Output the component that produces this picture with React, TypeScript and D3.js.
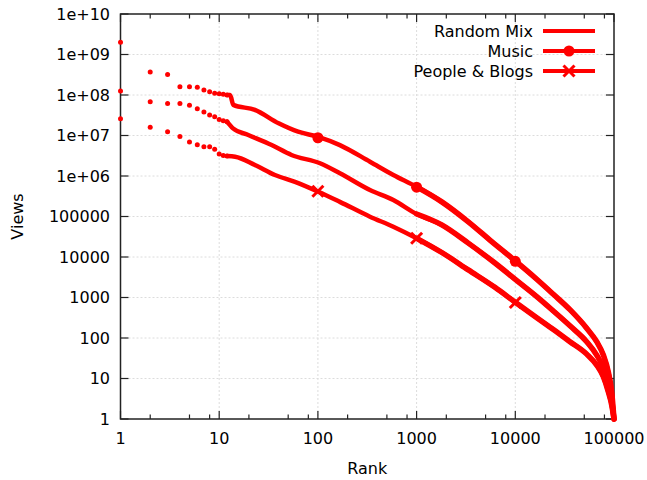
import React from "react";
import * as d3 from "d3";

const W = 647;
const H = 480;

// Individual early ranks (drawn as dots)
const dotRanks = [1, 2, 3, 4, 5, 6, 7, 8, 9, 10, 11, 12];
const musicDots = [2.0e9, 3.7e8, 3.2e8, 1.6e8, 1.6e8, 1.55e8, 1.32e8, 1.2e8, 1.1e8, 1.07e8, 1.04e8, 1.0e8];
const randomDots = [1.26e8, 6.8e7, 6.2e7, 6.2e7, 5.6e7, 4.6e7, 3.8e7, 3.2e7, 2.9e7, 2.5e7, 2.3e7, 2.2e7];
const peopleDots = [2.6e7, 1.6e7, 1.24e7, 9.5e6, 6.9e6, 5.9e6, 5.3e6, 5.3e6, 4.6e6, 3.5e6, 3.2e6, 3.1e6];

// Dense part of each curve
const musicRanks = [12, 12.9, 13.9, 23, 40, 63, 101, 167, 337, 581, 1000, 1800, 3340, 5770, 10000, 16500, 24300, 35800, 52900, 66800, 78000, 87500, 94800, 100000];
const musicViews = [1.0e8, 1.0e8, 5.7e7, 4.3e7, 2.0e7, 1.24e7, 9.3e6, 5.8e6, 2.25e6, 1.06e6, 5.4e5, 2.3e5, 7.4e4, 2.4e4, 8.0e3, 2820, 1200, 500, 174, 81, 38, 14.7, 4.7, 1];

const randomRanks = [12, 13.8, 19.7, 34, 54, 105, 167, 337, 581, 1000, 1800, 3340, 6220, 10000, 16500, 24300, 35800, 52900, 66800, 78000, 87500, 94800, 100000];
const randomViews = [2.2e7, 1.5e7, 1.03e7, 5.8e6, 3.3e6, 2.06e6, 1.17e6, 4.5e5, 2.55e5, 1.15e5, 6.2e4, 2.2e4, 7.1e3, 2.8e3, 1050, 464, 200, 81, 38, 17.9, 6.9, 2.7, 1];

const peopleRanks = [12, 14.5, 23, 36.7, 58.6, 101, 167, 337, 581, 1000, 1800, 3340, 6220, 10000, 16500, 24300, 35800, 52900, 66800, 78000, 87500, 94800, 100000];
const peopleViews = [3.1e6, 3.0e6, 1.87e6, 1.06e6, 7.2e5, 4.1e5, 2.3e5, 9.9e4, 5.6e4, 2.9e4, 1.29e4, 4.8e3, 1.78e3, 760, 316, 162, 81, 40, 21.4, 11, 4.7, 2.2, 1];

// Marker points
const markerRanks = [100, 1000, 10000];
const musicMarkers = [8.8e6, 5.3e5, 7.8e3];
const peopleMarkers = [4.2e5, 2.9e4, 7.5e2];

const xTickValues = [1, 10, 100, 1000, 10000, 100000];
const xTickLabels = ["1", "10", "100", "1000", "10000", "100000"];
const xMinorMultipliers = [2, 5, 8];
const yTickValues = [1, 10, 100, 1000, 1e4, 1e5, 1e6, 1e7, 1e8, 1e9, 1e10];
const yTickLabels = ["1", "10", "100", "1000", "10000", "100000", "1e+06", "1e+07", "1e+08", "1e+09", "1e+10"];

const legendNames = ["Random Mix", "Music", "People & Blogs"];

const RED = "#ff0000";
const FONT = "'DejaVu Sans', Verdana, sans-serif";
const FS = 16;

export default function App() {
  const left = 120.5, right = 614, top = 14, bottom = 419;
  const x = d3.scaleLog().domain([1, 1e5]).range([left, right]);
  const y = d3.scaleLog().domain([1, 1e10]).range([bottom, top]);

  const line = d3
    .line<[number, number]>()
    .x((d) => x(d[0]))
    .y((d) => y(d[1]))
    .curve(d3.curveMonotoneX);

  const zip = (a: number[], b: number[]) => a.map((v, i) => [v, b[i]] as [number, number]);

  const series = [
    { ranks: randomRanks, views: randomViews, dots: randomDots },
    { ranks: musicRanks, views: musicViews, dots: musicDots },
    { ranks: peopleRanks, views: peopleViews, dots: peopleDots },
  ];

  const minorX: number[] = [];
  for (let d = 1; d < 1e5; d *= 10) xMinorMultipliers.forEach((m) => minorX.push(d * m));

  const axisColor = "#222";
  const gridColor = "#dcdcdc";
  const cross = (cx: number, cy: number, s: number, key: string) => (
    <g key={key} stroke={RED} strokeWidth={3}>
      <line x1={cx - s} y1={cy - s} x2={cx + s} y2={cy + s} />
      <line x1={cx - s} y1={cy + s} x2={cx + s} y2={cy - s} />
    </g>
  );

  return (
    <svg
      width={W}
      height={H}
      style={{ position: "absolute", left: 0, top: 0, background: "#fff" }}
      fontFamily={FONT}
    >
      {/* grid */}
      {xTickValues.slice(1, -1).map((v) => (
        <line key={"gx" + v} x1={x(v)} x2={x(v)} y1={top} y2={bottom} stroke={gridColor} strokeWidth={1} strokeDasharray="2,2" />
      ))}
      {yTickValues.slice(1, -1).map((v) => (
        <line key={"gy" + v} x1={left} x2={right} y1={y(v)} y2={y(v)} stroke={gridColor} strokeWidth={1} strokeDasharray="2,2" />
      ))}

      {/* ticks */}
      {xTickValues.map((v) => (
        <g key={"xt" + v} stroke={axisColor} strokeWidth={1.2}>
          <line x1={x(v)} x2={x(v)} y1={bottom} y2={bottom - 8} />
          <line x1={x(v)} x2={x(v)} y1={top} y2={top + 8} />
        </g>
      ))}
      {minorX.map((v) => (
        <g key={"xm" + v} stroke={axisColor} strokeWidth={1.2}>
          <line x1={x(v)} x2={x(v)} y1={bottom} y2={bottom - 4.5} />
          <line x1={x(v)} x2={x(v)} y1={top} y2={top + 4.5} />
        </g>
      ))}
      {yTickValues.map((v) => (
        <g key={"yt" + v} stroke={axisColor} strokeWidth={1.2}>
          <line x1={left} x2={left + 8} y1={y(v)} y2={y(v)} />
          <line x1={right} x2={right - 8} y1={y(v)} y2={y(v)} />
        </g>
      ))}

      {/* tick labels */}
      {xTickValues.map((v, i) => (
        <text key={"xl" + v} x={x(v)} y={444} textAnchor="middle" fontSize={FS} fill="#000">
          {xTickLabels[i]}
        </text>
      ))}
      {yTickValues.map((v, i) => (
        <text key={"yl" + v} x={110} y={y(v)} dy="0.36em" textAnchor="end" fontSize={FS} fill="#000">
          {yTickLabels[i]}
        </text>
      ))}

      {/* axis titles */}
      <text x={(left + right) / 2} y={474} textAnchor="middle" fontSize={FS} fill="#000">
        Rank
      </text>
      <text
        transform={`translate(23, ${(top + bottom) / 2}) rotate(-90)`}
        textAnchor="middle"
        fontSize={FS}
        fill="#000"
      >
        Views
      </text>

      {/* border */}
      <rect x={left} y={top} width={right - left} height={bottom - top} fill="none" stroke={axisColor} strokeWidth={1.5} />

      {/* data */}
      {series.map((s, i) => {
        const pts = zip(s.ranks, s.views);
        const tail = pts.filter((p) => p[0] >= 1000);
        return (
          <g key={"s" + i}>
            <path
              d={line(pts) || ""}
              fill="none"
              stroke={RED}
              strokeWidth={4.5}
              strokeLinejoin="round"
              strokeLinecap="round"
            />
            <path
              d={line(tail) || ""}
              fill="none"
              stroke={RED}
              strokeWidth={5.5}
              strokeLinejoin="round"
              strokeLinecap="round"
            />
            {dotRanks.map((r, j) => (
              <circle key={j} cx={x(r)} cy={y(s.dots[j])} r={2.5} fill={RED} />
            ))}
          </g>
        );
      })}
      {markerRanks.map((r, i) => (
        <circle key={"mm" + i} cx={x(r)} cy={y(musicMarkers[i])} r={5.5} fill={RED} />
      ))}
      {markerRanks.map((r, i) => cross(x(r), y(peopleMarkers[i]), 5.5, "pm" + i))}

      {/* legend */}
      {legendNames.map((name, i) => {
        const ly = 31 + i * 20;
        return (
          <g key={"lg" + i}>
            <text x={533} y={ly} dy="0.36em" textAnchor="end" fontSize={FS} fill="#000">
              {name}
            </text>
            <line x1={543} x2={595} y1={ly} y2={ly} stroke={RED} strokeWidth={4} />
            {i === 1 && <circle cx={569} cy={ly} r={5.5} fill={RED} />}
            {i === 2 && cross(569, ly, 5.5, "lx")}
          </g>
        );
      })}
    </svg>
  );
}
